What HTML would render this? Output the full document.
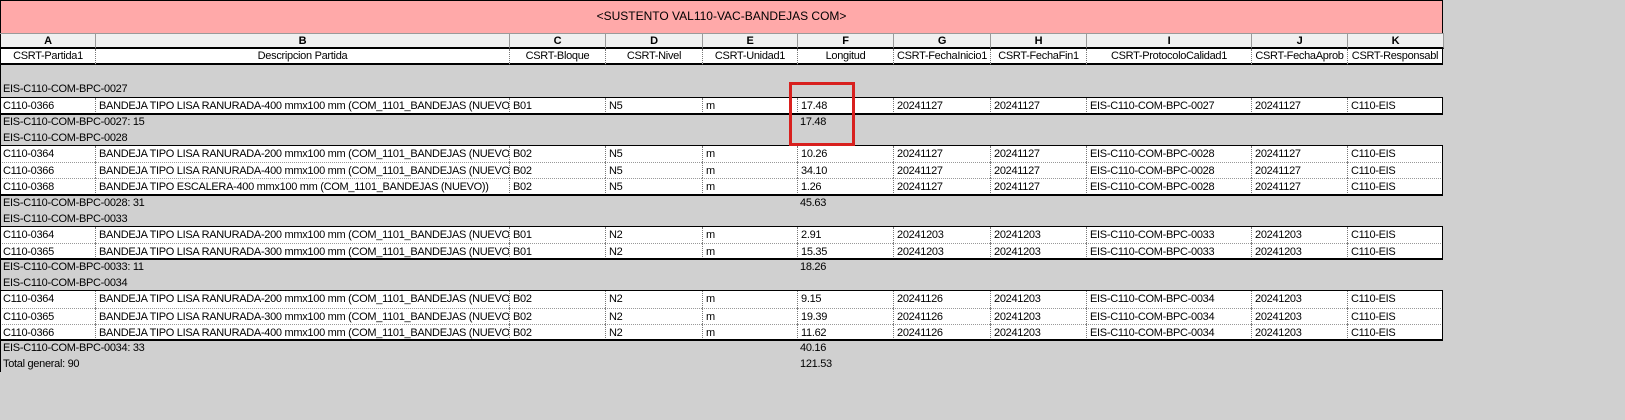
<!DOCTYPE html>
<html><head><meta charset="utf-8">
<style>
html,body{margin:0;padding:0;}
body{width:1625px;height:420px;background:#d0d0d0;position:relative;overflow:hidden;font-family:"Liberation Sans",Arial,sans-serif;font-size:11px;color:#000;letter-spacing:-0.3px;}
.c{position:absolute;box-sizing:border-box;white-space:nowrap;overflow:hidden;line-height:16px;padding-left:3px;}
#title{position:absolute;left:0;top:0;width:1443px;height:34px;background:#ffa9a9;border:1px solid #000;box-sizing:border-box;text-align:center;line-height:30px;font-size:12px;letter-spacing:0;}
#redbox{position:absolute;left:789px;top:82px;width:66px;height:64px;border:3px solid #d8201e;box-sizing:border-box;}
</style></head>
<body>
<div id="title">&lt;SUSTENTO VAL110-VAC-BANDEJAS COM&gt;</div>
<div id="grid"></div>
<div id="redbox"></div>
<script>
const colX=[0,95,509,605,702,797,893,990,1086,1251,1347,1443];
const letters=["A","B","C","D","E","F","G","H","I","J","K"];
const headers=["CSRT-Partida1","Descripcion Partida","CSRT-Bloque","CSRT-Nivel","CSRT-Unidad1","Longitud","CSRT-FechaInicio1","CSRT-FechaFin1","CSRT-ProtocoloCalidad1","CSRT-FechaAprob","CSRT-Responsabl"];
const groups=[
 {name:"EIS-C110-COM-BPC-0027",count:15,total:"17.48",rows:[
  ["C110-0366","BANDEJA TIPO LISA RANURADA-400 mmx100 mm (COM_1101_BANDEJAS (NUEVO))","B01","N5","m","17.48","20241127","20241127","EIS-C110-COM-BPC-0027","20241127","C110-EIS"]]},
 {name:"EIS-C110-COM-BPC-0028",count:31,total:"45.63",rows:[
  ["C110-0364","BANDEJA TIPO LISA RANURADA-200 mmx100 mm (COM_1101_BANDEJAS (NUEVO))","B02","N5","m","10.26","20241127","20241127","EIS-C110-COM-BPC-0028","20241127","C110-EIS"],
  ["C110-0366","BANDEJA TIPO LISA RANURADA-400 mmx100 mm (COM_1101_BANDEJAS (NUEVO))","B02","N5","m","34.10","20241127","20241127","EIS-C110-COM-BPC-0028","20241127","C110-EIS"],
  ["C110-0368","BANDEJA TIPO ESCALERA-400 mmx100 mm (COM_1101_BANDEJAS (NUEVO))","B02","N5","m","1.26","20241127","20241127","EIS-C110-COM-BPC-0028","20241127","C110-EIS"]]},
 {name:"EIS-C110-COM-BPC-0033",count:11,total:"18.26",rows:[
  ["C110-0364","BANDEJA TIPO LISA RANURADA-200 mmx100 mm (COM_1101_BANDEJAS (NUEVO))","B01","N2","m","2.91","20241203","20241203","EIS-C110-COM-BPC-0033","20241203","C110-EIS"],
  ["C110-0365","BANDEJA TIPO LISA RANURADA-300 mmx100 mm (COM_1101_BANDEJAS (NUEVO))","B01","N2","m","15.35","20241203","20241203","EIS-C110-COM-BPC-0033","20241203","C110-EIS"]]},
 {name:"EIS-C110-COM-BPC-0034",count:33,total:"40.16",rows:[
  ["C110-0364","BANDEJA TIPO LISA RANURADA-200 mmx100 mm (COM_1101_BANDEJAS (NUEVO))","B02","N2","m","9.15","20241126","20241203","EIS-C110-COM-BPC-0034","20241203","C110-EIS"],
  ["C110-0365","BANDEJA TIPO LISA RANURADA-300 mmx100 mm (COM_1101_BANDEJAS (NUEVO))","B02","N2","m","19.39","20241126","20241203","EIS-C110-COM-BPC-0034","20241203","C110-EIS"],
  ["C110-0366","BANDEJA TIPO LISA RANURADA-400 mmx100 mm (COM_1101_BANDEJAS (NUEVO))","B02","N2","m","11.62","20241126","20241203","EIS-C110-COM-BPC-0034","20241203","C110-EIS"]]}
];
const grandCount="Total general: 90", grandTotal="121.53";
const G=document.getElementById('grid');
const P=16.15, T0=33;
function rowTop(n){return Math.round(T0+P*n);}
function cell(x,y,w,h,txt,css,name){
  const d=document.createElement('div');
  d.className='c';
  d.style.cssText=`left:${x}px;top:${y}px;width:${w}px;height:${h}px;`+(css||'');
  d.textContent=txt;
  
  
  G.appendChild(d);return d;
}
let y=rowTop(0),h=rowTop(1)-y;
for(let i=0;i<11;i++){
  cell(colX[i],y,colX[i+1]-colX[i]+1,h,letters[i],'background:#f0f0f0;border:1px solid #9a9a9a;border-bottom:2px solid #000;font-weight:bold;text-align:center;padding-left:0;line-height:14px;','column-letter');
}
y=rowTop(1);h=rowTop(2)-y;
for(let i=0;i<11;i++){
  cell(colX[i],y,colX[i+1]-colX[i],h,headers[i],'background:#fff;border-left:1px dotted #777;border-bottom:2px solid #000;text-align:center;padding-left:0;line-height:15px;'+(i==10?'border-right:1px solid #000;':''),'column-header');
}
let n=3;
groups.forEach(g=>{
  y=rowTop(n);cell(0,y,600,rowTop(n+1)-y,g.name,'','group-label');n++;
  const top=rowTop(n);
  g.rows.forEach((r,ri)=>{
    y=rowTop(n);h=rowTop(n+1)-y;
    for(let i=0;i<11;i++){
      cell(colX[i],y,colX[i+1]-colX[i],h,r[i],'background:#fff;'+(i>0?'border-left:1px dotted #777;':'')+(ri>0?'border-top:1px dotted #999;':''),'data-cell');
    }
    n++;
  });
  const bot=rowTop(n);
  const b=document.createElement('div');
  b.style.cssText=`position:absolute;left:0;top:${top-1}px;width:1443px;height:${bot-top+2}px;border:1px solid #000;border-bottom-width:2px;box-sizing:border-box;`;
  
  
  G.appendChild(b);
  y=rowTop(n);h=rowTop(n+1)-y;
  cell(0,y,500,h,g.name+': '+g.count,'','group-subtotal-label');
  cell(colX[5],y,96,h,g.total,'','group-subtotal-value');
  n++;
});
y=rowTop(n);h=rowTop(n+1)-y;
cell(0,y,500,h,grandCount,'','grand-total-label');
cell(colX[5],y,96,h,grandTotal,'','grand-total-value');
const l=document.createElement('div');
l.style.cssText=`position:absolute;left:0;top:34px;width:1px;height:${rowTop(n+1)-34}px;background:#000;`;


G.appendChild(l);
</script>
</body></html>
